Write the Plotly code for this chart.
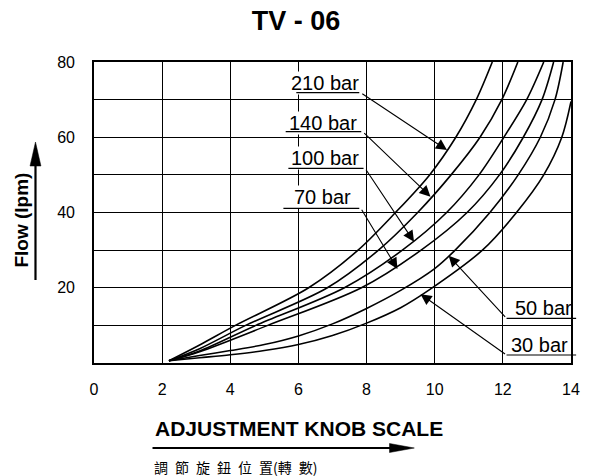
import plotly.graph_objects as go

# ---------------- data ----------------
pressure_labels = ["210 bar", "140 bar", "100 bar", "70 bar", "50 bar", "30 bar"]

knob_210 = [2.2, 3.1, 4.15, 6.3, 7.75, 8.85, 9.85, 10.62, 11.22, 11.69]
flow_210 = [0.6, 4.8, 10, 20, 30, 40, 50, 60, 70, 80]
knob_140 = [2.2, 3.1, 4.45, 6.85, 8.35, 9.5, 10.48, 11.33, 11.97, 12.44]
flow_140 = [0.6, 3.8, 10, 20, 30, 40, 50, 60, 70, 80]
knob_100 = [2.2, 3.1, 4.75, 7.35, 9.05, 10.35, 11.3, 12.03, 12.7, 13.2]
flow_100 = [0.6, 3.2, 10, 20, 30, 40, 50, 60, 70, 80]
knob_70 = [2.2, 3.1, 5.1, 7.85, 9.6, 10.95, 11.9, 12.6, 13.15, 13.49]
flow_70 = [0.6, 3.0, 10, 20, 30, 40, 50, 60, 70, 80]
knob_50 = [2.2, 3.1, 4.0, 5.0, 6.0, 7.0, 8.0, 9.0, 10.0, 10.6, 11.62, 12.45, 13.1, 13.53, 13.77]
flow_50 = [0.6, 2.0, 3.3, 4.9, 7.2, 10.4, 14.5, 19.3, 25.1, 30, 40, 50, 60, 70, 80]
knob_30 = [2.2, 3.1, 4.0, 5.0, 6.0, 7.0, 8.0, 9.0, 9.85, 11.4, 12.4, 13.2, 13.73, 14.0]
flow_30 = [0.6, 1.4, 2.2, 3.3, 4.9, 7.3, 10.6, 14.7, 19.5, 30, 40, 50, 60, 69.5]

x_tick_vals = [0, 2, 4, 6, 8, 10, 12, 14]
x_tick_text = ["0", "2", "4", "6", "8", "10", "12", "14"]
y_tick_vals = [0, 10, 20, 30, 40, 50, 60, 70, 80]
y_tick_text = ["", "", "20", "", "40", "", "60", "", "80"]

# arrow tips on the curves (knob, flow)
tip_knob = [10.36, 9.876, 9.393, 8.906, 10.41, 9.585]
tip_flow = [56.6, 44.2, 32.24, 25.0, 28.5, 18.3]

title_text = "TV - 06"
x_title = "ADJUSTMENT KNOB SCALE"
x_subtitle = "調\u2002節\u2002旋\u2002鈕\u2002位\u2002置(轉\u2002數)"
y_title = "Flow (lpm)"

# ---------------- layout positions (data coords) ----------------
label_x = [5.754, 5.684, 5.754, 5.85, 12.32, 12.2]
label_y = [74.34, 63.87, 54.41, 44.2, 14.54, 4.78]
uline_x0 = [5.938, 5.626, 5.705, 5.559, 12.108, 12.108]
uline_x1 = [7.83, 7.888, 7.955, 7.83, 14.195, 14.195]
uline_y = [71.84, 61.48, 51.75, 41.12, 11.88, 2.13]
label_side = ["left", "left", "left", "left", "right", "right"]

FONT = "Liberation Sans, Arial, sans-serif"
W, H = 592, 476
ML, MR, MT, MB = 94, 17, 62, 113
PW, PH = W - ML - MR, H - MT - MB


def px(xp):
    return (xp - ML) / PW


def py(yp):
    return (H - MB - yp) / PH


fig = go.Figure()
curves = [(knob_210, flow_210), (knob_140, flow_140), (knob_100, flow_100),
          (knob_70, flow_70), (knob_50, flow_50), (knob_30, flow_30)]
for name, (kx, fy) in zip(pressure_labels, curves):
    fig.add_trace(go.Scatter(x=kx, y=fy, mode="lines", name=name,
                             line=dict(color="black", width=1.6, shape="spline", smoothing=0.9),
                             showlegend=False, hoverinfo="skip"))

ann = []
# label texts
for i, t in enumerate(pressure_labels):
    ann.append(dict(x=label_x[i], y=label_y[i], xref="x", yref="y", text=t,
                    showarrow=False, xanchor="left", yanchor="middle",
                    font=dict(family=FONT, size=20, color="black"),
                    bgcolor="white" if label_side[i] == "left" else None, borderpad=0))
# underlines
for i in range(len(pressure_labels)):
    ann.append(dict(x=uline_x0[i], y=uline_y[i], ax=uline_x1[i], ay=uline_y[i],
                    xref="x", yref="y", axref="x", ayref="y", text="",
                    showarrow=True, arrowhead=0, arrowwidth=1.2, arrowcolor="black"))
# leaders with arrowheads
for i in range(len(pressure_labels)):
    tx = uline_x1[i] if label_side[i] == "left" else uline_x0[i]
    ann.append(dict(x=tip_knob[i], y=tip_flow[i], ax=tx, ay=uline_y[i],
                    xref="x", yref="y", axref="x", ayref="y", text="",
                    showarrow=True, arrowhead=2, arrowsize=2.0, arrowwidth=1.1,
                    arrowcolor="black"))
# axis titles
ann.append(dict(x=px(153), y=py(428), xref="paper", yref="paper", text="<b>" + x_title + "</b>",
                showarrow=False, xanchor="left", yanchor="middle",
                font=dict(family=FONT, size=21, color="black")))
ann.append(dict(x=px(152), y=py(467), xref="paper", yref="paper", text=x_subtitle,
                showarrow=False, xanchor="left", yanchor="middle",
                font=dict(family="Noto Sans CJK TC, sans-serif", size=14, color="black")))
ann.append(dict(x=px(20), y=py(220), xref="paper", yref="paper", text="<b>" + y_title + "</b>",
                showarrow=False, xanchor="center", yanchor="middle", textangle=-90,
                font=dict(family=FONT, size=19, color="black")))

shapes = []
# big axis arrows (paper coords)
shapes.append(dict(type="line", xref="paper", yref="paper", x0=px(35), x1=px(35),
                   y0=py(280), y1=py(162), line=dict(color="black", width=2.2)))
shapes.append(dict(type="path", xref="paper", yref="paper",
                   path=f"M {px(29.5)},{py(166)} L {px(35)},{py(142)} L {px(40.5)},{py(166)} Z",
                   fillcolor="black", line=dict(color="black", width=0.5)))
shapes.append(dict(type="line", xref="paper", yref="paper", x0=px(153), x1=px(395),
                   y0=py(448), y1=py(448), line=dict(color="black", width=2.2)))
shapes.append(dict(type="path", xref="paper", yref="paper",
                   path=f"M {px(392)},{py(443.5)} L {px(417)},{py(448)} L {px(392)},{py(452.5)} Z",
                   fillcolor="black", line=dict(color="black", width=0.5)))

fig.update_layout(
    width=W, height=H,
    margin=dict(l=ML, r=MR, t=MT, b=MB, pad=0),
    paper_bgcolor="white", plot_bgcolor="white",
    title=dict(text="<b>" + title_text + "</b>", x=0.5, xref="container", xanchor="center",
               y=1 - 21 / H, yref="container", yanchor="middle",
               font=dict(family=FONT, size=27, color="black")),
    xaxis=dict(range=[0, 14], tickvals=x_tick_vals, ticktext=x_tick_text,
               showgrid=True, gridcolor="black", gridwidth=1.2, zeroline=False,
               showline=True, linecolor="black", linewidth=1.6, mirror=True,
               ticks="", ticklabelstandoff=11,
               tickfont=dict(family=FONT, size=16, color="black"), fixedrange=True),
    yaxis=dict(range=[0, 80], tickvals=y_tick_vals, ticktext=y_tick_text,
               showgrid=True, gridcolor="black", gridwidth=1.2, zeroline=False,
               showline=True, linecolor="black", linewidth=1.6, mirror=True,
               ticks="", ticklabelstandoff=14,
               tickfont=dict(family=FONT, size=16, color="black"), fixedrange=True),
    annotations=ann, shapes=shapes,
)

fig.write_html("out.html", config={"displayModeBar": False},
               post_script="document.body.style.margin='0px';")
